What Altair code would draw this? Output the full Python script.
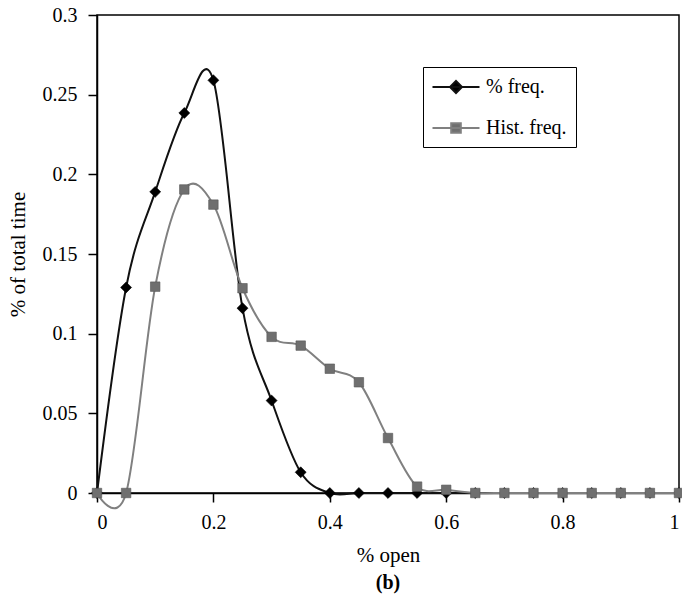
import altair as alt
import pandas as pd

# ---- data ----
x_open = [0.0, 0.05, 0.1, 0.15, 0.2, 0.25, 0.3, 0.35, 0.4, 0.45, 0.5,
          0.55, 0.6, 0.65, 0.7, 0.75, 0.8, 0.85, 0.9, 0.95, 1.0]
pct_freq = [0.0, 0.129, 0.189, 0.2385, 0.259, 0.116, 0.058, 0.013, 0.0, 0.0, 0.0,
            0.0, 0.0, 0.0, 0.0, 0.0, 0.0, 0.0, 0.0, 0.0, 0.0]
hist_freq = [0.0, 0.0, 0.1295, 0.1905, 0.181, 0.1285, 0.098, 0.0925, 0.078, 0.0695, 0.0345,
             0.004, 0.002, 0.0, 0.0, 0.0, 0.0, 0.0, 0.0, 0.0, 0.0]
series_names = ["% freq.", "Hist. freq."]
x_ticks = [0, 0.2, 0.4, 0.6, 0.8, 1.0]
y_ticks = [0, 0.05, 0.1, 0.15, 0.2, 0.25, 0.3]

rows = []
for i, xv in enumerate(x_open):
    rows.append({"x": xv, "y": pct_freq[i], "series": series_names[0]})
for i, xv in enumerate(x_open):
    rows.append({"x": xv, "y": hist_freq[i], "series": series_names[1]})
df = pd.DataFrame(rows)

FONT = "Liberation Serif"
line_colors = ["#111111", "#808080"]
marker_colors = ["#000000", "#6f6f6f"]

xs = alt.Scale(domain=[0, 1], nice=False)
ys = alt.Scale(domain=[0, 0.3], nice=False)

X = alt.X("x:Q", scale=xs, title="% open",
          axis=alt.Axis(values=x_ticks, format=".1~f"))
Y = alt.Y("y:Q", scale=ys, title="% of total time",
          axis=alt.Axis(values=y_ticks, format=".2~f"))

base = alt.Chart(df)

def one_series(idx, shape, size):
    sub = base.transform_filter(alt.datum.series == series_names[idx])
    ln = sub.mark_line(interpolate="cardinal", strokeWidth=2,
                       color=line_colors[idx], clip=False).encode(x=X, y=Y, order="x:Q")
    pt = sub.mark_point(filled=True, shape=shape, size=size, opacity=1,
                        color=marker_colors[idx], stroke="#555555" if idx else "#000000",
                        strokeWidth=0.6).encode(x=X, y=Y)
    return ln, pt

l1, p1 = one_series(0, "diamond", 120)
l2, p2 = one_series(1, "square", 90)

# legend carrier layer (no rows drawn) with combined line+marker symbols
diamond_path = "M-2.35,0L2.35,0M0,-0.6L0.6,0L0,0.6L-0.6,0Z"
square_path = "M-2.35,0L2.35,0M-0.48,-0.48L0.48,-0.48L0.48,0.48L-0.48,0.48Z"
legend_layer = base.transform_filter("false").mark_point(filled=True, strokeWidth=2).encode(
    x=X, y=Y,
    fill=alt.Fill("series:N", scale=alt.Scale(domain=series_names, range=marker_colors),
                  legend=alt.Legend(title=None)),
    stroke=alt.Stroke("series:N", scale=alt.Scale(domain=series_names, range=line_colors),
                      legend=alt.Legend(title=None)),
    shape=alt.Shape("series:N", scale=alt.Scale(domain=series_names,
                                                range=[diamond_path, square_path]),
                    legend=alt.Legend(title=None)),
)

chart = alt.layer(l1, p1, l2, p2, legend_layer).properties(
    width=582, height=478,
    padding={"left": 97, "top": 15, "right": 3, "bottom": 108},
    autosize=alt.AutoSizeParams(type="none"),
    title=alt.TitleParams("(b)", orient="bottom", font=FONT, fontSize=20,
                          fontWeight="bold", color="black", offset=8, anchor="middle"),
).configure_view(
    stroke="black", strokeWidth=1.5
).configure_axis(
    labelFont=FONT, titleFont=FONT, labelFontSize=20, titleFontSize=21,
    labelColor="black", titleColor="black", titleFontWeight="normal",
    domainColor="black", tickColor="black", domainWidth=1.5, tickWidth=1.5,
    tickSize=9, grid=False,
).configure_axisX(
    titlePadding=12, labelPadding=10
).configure_axisY(
    titlePadding=14, labelPadding=11
).configure_legend(
    orient="none", legendX=326, legendY=52,
    strokeColor="black", fillColor="white", padding=9,
    labelFont=FONT, labelFontSize=20, labelColor="black",
    symbolSize=400, symbolStrokeWidth=2, symbolOffset=13, labelOffset=19, rowPadding=20,
    symbolOpacity=1,
)

chart.save("out.html", embed_options={"renderer": "svg", "actions": False})
